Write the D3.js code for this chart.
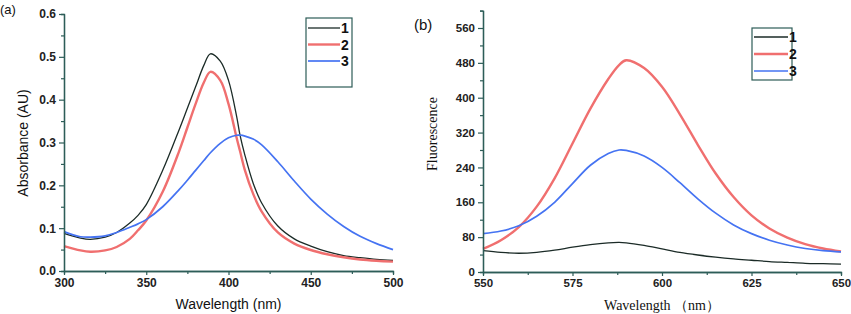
<!DOCTYPE html>
<html lang="en">
<head>
<meta charset="UTF-8">
<title>Absorbance and fluorescence</title>
<script src="https://d3js.org/d3.v7.min.js"></script>
<style>
  body { margin: 0; background: #fff; }
  svg text { fill: #111; }
</style>
</head>
<body>
<div id="wrapper"></div>
<script>
// ---- data ----
// panel (a): absorbance spectra
const absWave = [300, 310, 316, 325, 332, 340, 345, 350, 360, 370, 375, 380, 385, 389, 395, 400, 405, 407, 410, 415, 420, 430, 440, 450, 460, 470, 480, 490, 500];
const abs1 = [0.088, 0.077, 0.074, 0.079, 0.090, 0.112, 0.130, 0.155, 0.235, 0.33, 0.38, 0.43, 0.48, 0.507, 0.49, 0.445, 0.36, 0.317, 0.27, 0.205, 0.16, 0.105, 0.075, 0.058, 0.045, 0.036, 0.031, 0.027, 0.025];
const abs2 = [0.058, 0.048, 0.045, 0.048, 0.056, 0.075, 0.095, 0.118, 0.185, 0.28, 0.335, 0.39, 0.44, 0.465, 0.445, 0.39, 0.31, 0.28, 0.235, 0.18, 0.14, 0.09, 0.064, 0.049, 0.039, 0.032, 0.027, 0.024, 0.022];
const abs3 = [0.092, 0.080, 0.079, 0.082, 0.090, 0.102, 0.110, 0.120, 0.150, 0.19, 0.212, 0.235, 0.258, 0.276, 0.298, 0.311, 0.317, 0.317, 0.315, 0.308, 0.295, 0.255, 0.21, 0.168, 0.133, 0.104, 0.081, 0.064, 0.050];

// panel (b): fluorescence spectra
const flWave = [550, 555, 560, 565, 570, 575, 580, 585, 588, 590, 595, 600, 605, 610, 615, 620, 625, 630, 635, 640, 645, 650];
const fl1 = [49, 45, 43, 45, 50, 57, 63, 67, 68, 67, 61, 53, 45, 39, 34, 30, 27, 24, 22, 20, 19, 18];
const fl2 = [53, 73, 103, 150, 215, 295, 375, 443, 475, 486, 468, 425, 362, 292, 226, 172, 130, 100, 79, 64, 54, 47];
const fl3 = [88, 94, 106, 128, 160, 203, 245, 272, 280, 279, 266, 240, 205, 168, 135, 108, 88, 73, 62, 54, 49, 46];

const seriesNames = ["1", "2", "3"];
const colors = ["#1b2b27", "#f06f6f", "#4573f2"];
const widths = [1.3, 2.4, 1.7];

const axisColor = "#2d5d58";
const sans = "Liberation Sans, Arial, sans-serif";
const serif = "Liberation Serif, Times New Roman, serif";

const svg = d3.select("#wrapper").append("svg")
  .attr("width", 851).attr("height", 314);

// ---------- helper that draws one panel ----------
function drawPanel(opt) {
  const g = svg.append("g");
  const x = opt.x, y = opt.y;

  // curves
  const line = d3.line().curve(d3.curveCatmullRom.alpha(0.5));
  opt.series.forEach((vals, i) => {
    g.append("path")
      .attr("d", line(opt.wave.map((w, j) => [x(w), y(vals[j])])))
      .attr("fill", "none")
      .attr("stroke", colors[i])
      .attr("stroke-width", widths[i]);
  });

  // minor ticks first so the major axis sits over them
  const yAxisMinor = d3.axisLeft(y).tickValues(opt.yMinor).tickSize(3).tickFormat("");
  const xAxisMinor = d3.axisBottom(x).tickValues(opt.xMinor).tickSize(3).tickFormat("");
  const yAxis = d3.axisLeft(y).tickValues(opt.yTicks).tickSize(5).tickSizeOuter(0).tickFormat(opt.yFormat);
  const xAxis = d3.axisBottom(x).tickValues(opt.xTicks).tickSize(4).tickSizeOuter(0).tickFormat(d3.format("d"));

  [[yAxisMinor, 0], [yAxis, 0], [xAxisMinor, 1], [xAxis, 1]].forEach(([ax, isX]) => {
    const a = g.append("g")
      .attr("transform", isX ? `translate(0,${y.range()[0]})` : `translate(${x.range()[0]},0)`)
      .call(ax);
    a.select(".domain").attr("stroke", axisColor).attr("stroke-width", 1.3);
    a.selectAll(".tick line").attr("stroke", axisColor).attr("stroke-width", 1.2);
    a.selectAll(".tick text")
      .attr("font-family", sans)
      .attr("font-size", opt.tickSize)
      .attr("font-weight", "bold")
      .style("fill", "#222");
  });

  // axis titles
  g.append("text")
    .attr("x", (x.range()[0] + x.range()[1]) / 2)
    .attr("y", opt.xTitleY)
    .attr("text-anchor", "middle")
    .attr("font-family", opt.titleFont)
    .attr("font-size", opt.titleSize)
    .text(opt.xTitle);
  g.append("text")
    .attr("transform", `translate(${opt.yTitleX},${opt.yTitleMid}) rotate(-90)`)
    .attr("text-anchor", "middle")
    .attr("font-family", opt.titleFont)
    .attr("font-size", opt.titleSize)
    .text(opt.yTitle);

  // panel letter
  g.append("text")
    .attr("x", opt.letterX).attr("y", opt.letterY)
    .attr("font-family", sans).attr("font-size", opt.letterSize)
    .text(opt.letter);

  // legend box
  const lg = opt.legend;
  g.append("rect")
    .attr("x", lg.x).attr("y", lg.y).attr("width", lg.w).attr("height", lg.h)
    .attr("fill", "#fff").attr("stroke", axisColor).attr("stroke-width", 1.2);
  seriesNames.forEach((name, i) => {
    const ly = lg.y + lg.first + i * lg.step;
    g.append("line")
      .attr("x1", lg.x + 2).attr("x2", lg.x + lg.lineLen)
      .attr("y1", ly).attr("y2", ly)
      .attr("stroke", colors[i]).attr("stroke-width", widths[i]);
    g.append("text")
      .attr("x", lg.x + lg.lineLen + 1).attr("y", ly + 5)
      .attr("font-family", sans).attr("font-size", 14).attr("font-weight", "bold")
      .text(name);
  });
}

// ---------- panel (a) ----------
const xA = d3.scaleLinear().domain([300, 500]).range([64, 393]);
const yA = d3.scaleLinear().domain([0, 0.6]).range([271, 14]);
drawPanel({
  x: xA, y: yA,
  wave: absWave, series: [abs1, abs2, abs3],
  xTicks: [300, 350, 400, 450, 500], xMinor: [325, 375, 425, 475],
  yTicks: d3.range(0, 0.61, 0.1), yMinor: [0.05, 0.15, 0.25, 0.35, 0.45, 0.55],
  yFormat: d3.format(".1f"), tickSize: 12,
  xTitle: "Wavelength (nm)", yTitle: "Absorbance (AU)",
  xTitleY: 309, yTitleX: 28, yTitleMid: 143,
  titleFont: sans, titleSize: 14,
  letter: "(a)", letterX: 0, letterY: 14, letterSize: 13,
  legend: { x: 306, y: 18, w: 46, h: 69, first: 10, step: 16.5, lineLen: 34 }
});

// ---------- panel (b) ----------
const xB = d3.scaleLinear().domain([550, 650]).range([483, 841]);
const yB = d3.scaleLinear().domain([0, 560]).range([272, 28]);
const yBtop = yB.copy().domain([0, 600]).range([272, yB(600)]);
drawPanel({
  x: xB, y: yBtop,
  wave: flWave, series: [fl1, fl2, fl3],
  xTicks: [550, 575, 600, 625, 650], xMinor: [562.5, 587.5, 612.5, 637.5],
  yTicks: d3.range(0, 561, 80), yMinor: [40, 120, 200, 280, 360, 440, 520, 600],
  yFormat: d3.format("d"), tickSize: 11.5,
  xTitle: "Wavelength \uFF08nm\uFF09", yTitle: "Fluorescence",
  xTitleY: 310, yTitleX: 437, yTitleMid: 134,
  titleFont: serif, titleSize: 14,
  letter: "(b)", letterX: 414, letterY: 30, letterSize: 15,
  legend: { x: 752, y: 28, w: 40, h: 52, first: 9, step: 17, lineLen: 36 }
});
</script>
</body>
</html>
